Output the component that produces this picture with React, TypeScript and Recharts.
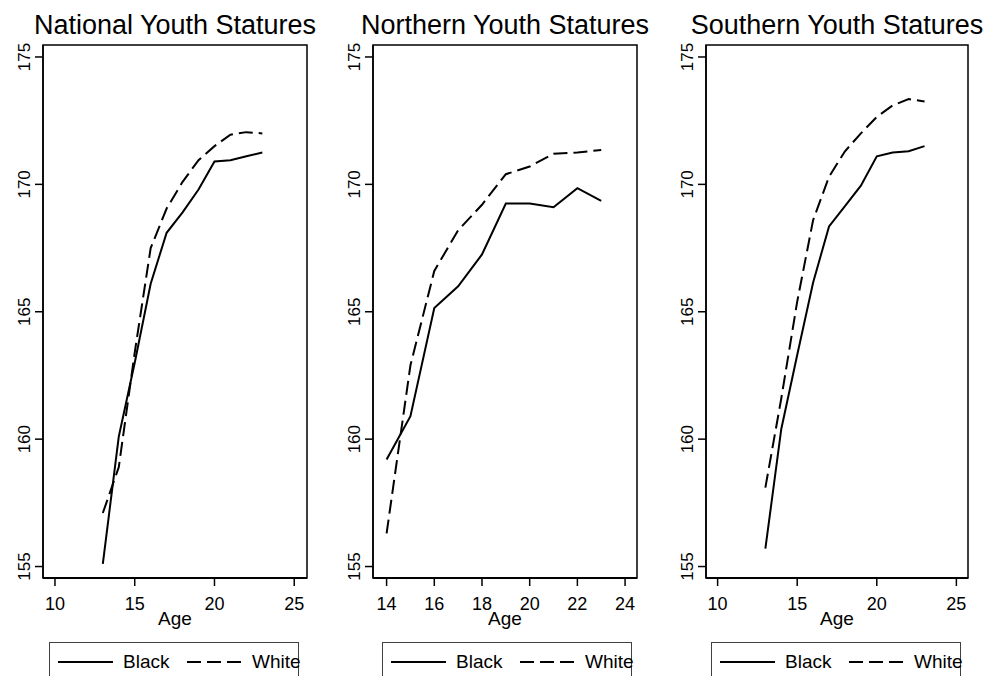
import React from 'react'
import { LineChart, Line, XAxis, YAxis, Legend, ReferenceArea } from 'recharts'

const FONT = '"Liberation Sans", Arial, Helvetica, sans-serif'

// ages per panel
const NATIONAL_AGES = [13, 14, 15, 16, 17, 18, 19, 20, 21, 22, 23]
const NORTH_AGES = [14, 15, 16, 17, 18, 19, 20, 21, 22, 23]
const SOUTH_AGES = [13, 14, 15, 16, 17, 18, 19, 20, 21, 22, 23]

// mean stature (cm)
const NATIONAL_BLACK = [155.1, 160.1, 163.0, 166.1, 168.1, 168.9, 169.8, 170.9, 170.95, 171.1, 171.25]
const NATIONAL_WHITE = [157.1, 158.9, 163.4, 167.5, 169.05, 170.1, 170.95, 171.5, 171.95, 172.05, 172.0]
const NORTH_BLACK = [159.2, 160.9, 165.15, 166.0, 167.25, 169.25, 169.25, 169.1, 169.85, 169.35]
const NORTH_WHITE = [156.3, 162.9, 166.6, 168.2, 169.2, 170.4, 170.7, 171.2, 171.25, 171.35]
const SOUTH_BLACK = [155.7, 160.4, 163.3, 166.15, 168.35, 169.15, 169.95, 171.1, 171.25, 171.3, 171.5]
const SOUTH_WHITE = [158.1, 161.6, 165.4, 168.6, 170.3, 171.3, 172.0, 172.65, 173.1, 173.35, 173.25]

const Y_TICKS = [155, 160, 165, 170, 175]
const WIDE_X_TICKS = [10, 15, 20, 25]
const NORTH_X_TICKS = [14, 16, 18, 20, 22, 24]

const Y_DOMAIN: [number, number] = [154.55, 175.47]
const WHITE_DASH = '14 6'
const LINE_W = 2

function rows(ages: number[], black: number[], white: number[]) {
  return ages.map((age, i) => ({ age, black: black[i], white: white[i] }))
}

const PANELS = [
  {
    title: 'National Youth Statures',
    data: rows(NATIONAL_AGES, NATIONAL_BLACK, NATIONAL_WHITE),
    xDomain: [9.25, 25.8] as [number, number],
    xTicks: WIDE_X_TICKS,
    left: 0,
    width: 330,
    margin: { top: 45, right: 23, bottom: 46, left: 8 },
    legendLeft: 49,
  },
  {
    title: 'Northern Youth Statures',
    data: rows(NORTH_AGES, NORTH_BLACK, NORTH_WHITE),
    xDomain: [13.43, 24.5] as [number, number],
    xTicks: NORTH_X_TICKS,
    left: 330,
    width: 330,
    margin: { top: 45, right: 23, bottom: 46, left: 8 },
    legendLeft: 52,
  },
  {
    title: 'Southern Youth Statures',
    data: rows(SOUTH_AGES, SOUTH_BLACK, SOUTH_WHITE),
    xDomain: [9.27, 25.73] as [number, number],
    xTicks: WIDE_X_TICKS,
    left: 660,
    width: 328,
    margin: { top: 45, right: 20, bottom: 46, left: 11 },
    legendLeft: 51,
  },
]

const Y_AXIS_WIDTH = 35

function YTick(props: any) {
  const { x, y, payload } = props
  return (
    <text
      x={x}
      y={y}
      transform={`rotate(-90 ${x} ${y})`}
      textAnchor="middle"
      fontSize={17}
      fontFamily={FONT}
      fill="#000"
    >
      {payload.value}
    </text>
  )
}

function LegendBox(props: any) {
  const items = props.payload ?? []
  return (
    <div
      style={{
        position: 'relative',
        width: 250,
        height: 60,
        border: '1px solid #404040',
        boxSizing: 'border-box',
        fontFamily: FONT,
        fontSize: 19,
        lineHeight: '19px',
        color: '#000',
      }}
    >
      {items.map((item: any, i: number) => {
        const dash = item.payload?.strokeDasharray
        const x0 = 8 + i * 129
        return (
          <React.Fragment key={item.value}>
            <svg
              width={55}
              height={4}
              style={{ position: 'absolute', left: x0, top: 17 }}
            >
              <line x1={0} y1={2} x2={55} y2={2} stroke="#000" strokeWidth={LINE_W} strokeDasharray={dash} />
            </svg>
            <span style={{ position: 'absolute', left: x0 + 65, top: 9, whiteSpace: 'nowrap' }}>
              {item.value}
            </span>
          </React.Fragment>
        )
      })}
    </div>
  )
}

function Panel({ panel }: { panel: (typeof PANELS)[number] }) {
  const plotLeft = panel.margin.left + Y_AXIS_WIDTH
  const plotWidth = panel.width - plotLeft - panel.margin.right
  return (
    <div style={{ position: 'absolute', left: panel.left, top: 0, width: panel.width, height: 676 }}>
      <div
        style={{
          position: 'absolute',
          left: plotLeft - 60,
          width: plotWidth + 120,
          top: 12,
          textAlign: 'center',
          fontFamily: FONT,
          fontSize: 27,
          lineHeight: '27px',
          whiteSpace: 'nowrap',
          color: '#000',
        }}
      >
        {panel.title}
      </div>
      <LineChart width={panel.width} height={676} data={panel.data} margin={panel.margin}>
        <XAxis
          dataKey="age"
          type="number"
          domain={panel.xDomain}
          ticks={panel.xTicks}
          interval={0}
          height={52}
          tickSize={8}
          tickMargin={11}
          stroke="#000"
          axisLine={{ stroke: '#000', strokeWidth: 2 }}
          tickLine={{ stroke: '#000', strokeWidth: 1.5 }}
          tick={{ fill: '#000', fontSize: 18, fontFamily: FONT }}
          label={{ value: 'Age', position: 'insideBottom', offset: 5, fill: '#000', fontSize: 19, fontFamily: FONT }}
        />
        <YAxis
          type="number"
          domain={Y_DOMAIN}
          ticks={Y_TICKS}
          interval={0}
          width={Y_AXIS_WIDTH}
          tickSize={8}
          tickMargin={5}
          axisLine={{ stroke: '#000', strokeWidth: 1.5 }}
          tickLine={{ stroke: '#000', strokeWidth: 1.5 }}
          tick={<YTick />}
        />
        <ReferenceArea
          x1={panel.xDomain[0]}
          x2={panel.xDomain[1]}
          y1={Y_DOMAIN[0]}
          y2={Y_DOMAIN[1]}
          fill="none"
          stroke="#000"
          strokeWidth={1.5}
          ifOverflow="visible"
        />
        <Line
          type="linear"
          dataKey="black"
          name="Black"
          stroke="#000"
          strokeWidth={LINE_W}
          dot={false}
          activeDot={false}
          isAnimationActive={false}
        />
        <Line
          type="linear"
          dataKey="white"
          name="White"
          stroke="#000"
          strokeWidth={LINE_W}
          strokeDasharray={WHITE_DASH}
          dot={false}
          activeDot={false}
          isAnimationActive={false}
        />
        <Legend
          layout="horizontal"
          verticalAlign="middle"
          align="center"
          content={<LegendBox />}
          wrapperStyle={{ left: panel.legendLeft, top: 642, width: 250, height: 60 }}
        />
      </LineChart>
    </div>
  )
}

export default function App() {
  return (
    <div
      style={{
        position: 'absolute',
        left: 0,
        top: 0,
        width: 988,
        height: 676,
        overflow: 'hidden',
        background: '#fff',
      }}
    >
      {PANELS.map((p) => (
        <Panel key={p.title} panel={p} />
      ))}
    </div>
  )
}
